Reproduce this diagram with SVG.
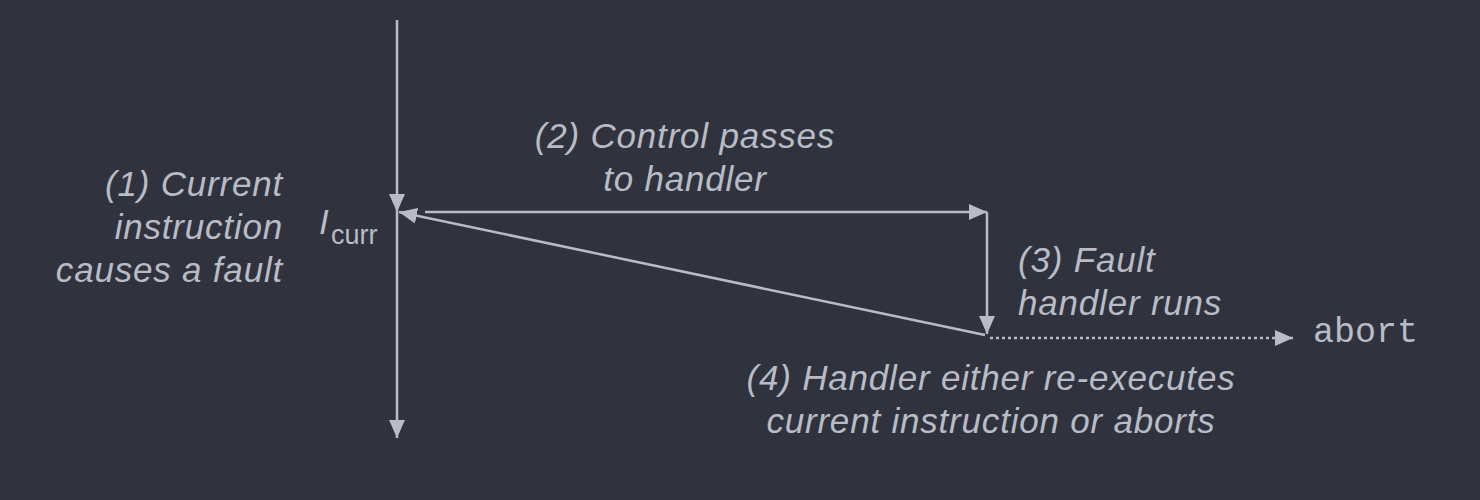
<svg xmlns="http://www.w3.org/2000/svg" width="1480" height="500" viewBox="0 0 1480 500">
<style>
.l{stroke:#b8bcc6;stroke-width:2.5;fill:none}
.t{font-family:"Liberation Sans",Arial,sans-serif;font-style:italic;font-size:35px;letter-spacing:0.8px;fill:#b8bcc6}
</style>
<defs>
<marker id="b" viewBox="0 0 18 16" refX="18" refY="8" markerWidth="18" markerHeight="16" markerUnits="userSpaceOnUse" orient="auto"><path d="M0,0L18,8L0,16z" fill="#b8bcc6"/></marker></defs>
<rect width="1480" height="500" fill="#30333e"/>
<g id="connectors">
<line class="l" x1="397" y1="20" x2="397" y2="212" marker-end="url(#b)"/>
<line class="l" x1="397" y1="212" x2="397" y2="438" marker-end="url(#b)"/>
<line class="l" x1="425" y1="212" x2="987" y2="212" marker-end="url(#b)"/>
<line class="l" x1="987" y1="212" x2="987" y2="334" marker-end="url(#b)"/>
<line class="l" x1="985" y1="335" x2="399" y2="212" marker-end="url(#b)"/>
<line class="l" x1="990" y1="338" x2="1293" y2="338" stroke-dasharray="3,3" marker-end="url(#b)"/>
</g>
<g id="labels">
<text class="t" text-anchor="end" x="283" y="196">(1) Current</text>
<text class="t" text-anchor="end" x="283" y="239">instruction</text>
<text class="t" text-anchor="end" x="283" y="282">causes a fault</text>
<text x="319" y="234" font-family="Liberation Sans,Arial,sans-serif" font-size="35" font-style="italic" fill="#b8bcc6">I</text>
<text x="331" y="244" font-family="Liberation Sans,Arial,sans-serif" font-size="27" fill="#b8bcc6">curr</text>
<text class="t" text-anchor="middle" x="685" y="148">(2) Control passes</text>
<text class="t" text-anchor="middle" x="685" y="191">to handler</text>
<text class="t" x="1018" y="272">(3) Fault</text>
<text class="t" x="1018" y="315">handler runs</text>
<text x="1313" y="342" font-family="Liberation Mono,Courier New,monospace" font-size="35" fill="#b8bcc6">abort</text>
<text class="t" text-anchor="middle" x="991" y="390">(4) Handler either re-executes</text>
<text class="t" text-anchor="middle" x="991" y="433">current instruction or aborts</text>
</g>
</svg>
